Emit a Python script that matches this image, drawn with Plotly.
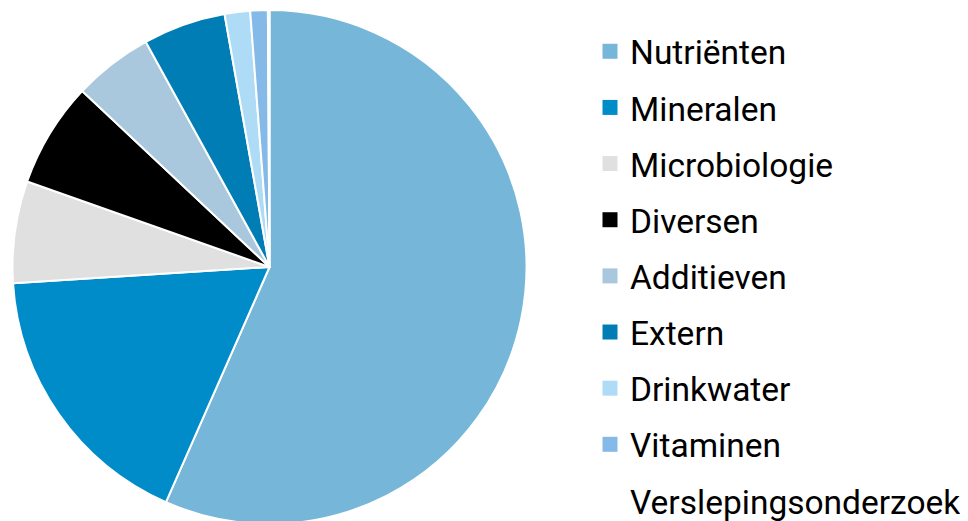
import plotly.graph_objects as go

categories = ["Nutriënten", "Mineralen", "Microbiologie", "Diversen", "Additieven",
              "Extern", "Drinkwater", "Vitaminen", "Verslepingsonderzoek"]
values = [56.6, 17.4, 6.4, 6.6, 5.0, 5.2, 1.6, 1.1, 0.1]
colors = ["#75B6D9", "#008BC9", "#E0E0E0", "#000000", "#A9C8DD",
          "#007DB4", "#AEDCF6", "#85BAE8", "#FFFFFF"]

W, H = 968, 521

fig = go.Figure()
fig.add_trace(go.Pie(
    labels=categories, values=values, sort=False, direction="clockwise", rotation=0,
    marker=dict(colors=colors, line=dict(color="white", width=2)),
    textinfo="none", hoverinfo="label+percent", showlegend=False,
    domain=dict(x=[4.5 / W, 518.5 / W], y=[5 / H, 519 / H]),
))
for i, (c, col) in enumerate(zip(categories, colors)):
    fig.add_trace(go.Scatter(
        x=[None], y=[None], mode="markers", name=c, legendgroup=f"g{i}",
        marker=dict(symbol="square", size=15, color=col, line=dict(width=0)),
        showlegend=True,
    ))

fig.update_layout(
    width=W, height=H,
    margin=dict(l=0, r=0, t=0, b=0),
    paper_bgcolor="white", plot_bgcolor="white",
    xaxis=dict(visible=False), yaxis=dict(visible=False),
    font=dict(family="Roboto", color="black"),
    legend=dict(
        x=582 / W, y=1 - 22 / H, xanchor="left", yanchor="top",
        font=dict(family="Roboto", size=33.5, color="black"),
        tracegroupgap=9.6, bgcolor="rgba(0,0,0,0)",
    ),
)
fig.write_html("out.html")
